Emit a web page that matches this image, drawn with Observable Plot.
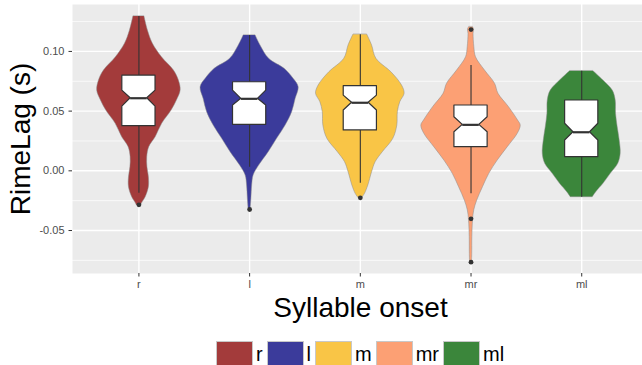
<!DOCTYPE html>
<html><head><meta charset="utf-8">
<script src="https://cdn.jsdelivr.net/npm/d3@7"></script>
<script src="https://cdn.jsdelivr.net/npm/@observablehq/plot@0.6"></script>
<style>
body{margin:0;background:#fff;font-family:"Liberation Sans",Arial,sans-serif;}
#legend{display:flex;justify-content:center;align-items:center;padding-left:82px;width:560px;margin-top:11px;}
.item{display:flex;align-items:center;margin-right:4px}
.key{width:37px;height:26px;border:1px solid #c8c8c8;box-sizing:border-box}
.lab{font-size:20px;margin-left:3px;color:#000;line-height:20px}
</style></head><body><div id="chart"></div><div id="legend"></div>
<script>
const categories = ["r", "l", "m", "mr", "ml"];
const colors = ["#a33b3b", "#3b3b9b", "#f9c546", "#fca074", "#3b863b"];
const yTicks = [-0.05, 0, 0.05, 0.10];
const yMinor = [-0.075, -0.025, 0.025, 0.075, 0.125];
const xTitle = "Syllable onset";
const yTitle = "RimeLag (s)";

// boxplot statistics
const q1 =        [0.0374, 0.0385, 0.0338, 0.0198, 0.0114];
const median =    [0.0608, 0.0603, 0.0570, 0.0385, 0.0323];
const q3 =        [0.0798, 0.0742, 0.0709, 0.0547, 0.0589];
const notchLo =   [0.0538, 0.0547, 0.0505, 0.0323, 0.0254];
const notchHi =   [0.0672, 0.0672, 0.0630, 0.0449, 0.0394];
const whiskerLo = [-0.0188, 0.0030, -0.0104, -0.0193, -0.0221];
const whiskerHi = [0.1292, 0.1133, 0.1139, 0.0882, 0.0834];
const outlierCat = ["r", "l", "m", "mr", "mr", "mr"];
const outlierVal = [-0.0285, -0.0324, -0.0226, 0.1183, -0.0402, -0.0765];

// violin half-widths (in category-band units) at values
const violinR = [[0.1292,0.050],[0.1175,0.081],[0.1064,0.126],[0.0951,0.208],[0.0840,0.316],[0.0756,0.361],[0.0672,0.377],[0.0589,0.343],[0.0505,0.295],[0.0394,0.210],[0.0281,0.151],[0.0198,0.093],[0.0114,0.075],[0.0030,0.077],[-0.0054,0.090],[-0.0137,0.090],[-0.0221,0.061],[-0.0260,0.036],[-0.0290,0.018]];
const violinL = [[0.1133,0.054],[0.1050,0.098],[0.0938,0.176],[0.0854,0.316],[0.0771,0.397],[0.0700,0.443],[0.0603,0.416],[0.0491,0.384],[0.0379,0.325],[0.0268,0.248],[0.0156,0.172],[0.0044,0.086],[-0.0039,0.036],[-0.0123,0.023],[-0.0235,0.016],[-0.0324,0.009]];
const violinM = [[0.1139,0.063],[0.1050,0.106],[0.0938,0.145],[0.0826,0.280],[0.0714,0.377],[0.0645,0.400],[0.0575,0.361],[0.0491,0.339],[0.0379,0.334],[0.0268,0.298],[0.0156,0.203],[0.0072,0.138],[-0.0012,0.106],[-0.0123,0.072],[-0.0193,0.042],[-0.0226,0.018]];
const violinMR = [[0.1203,0.018],[0.1183,0.027],[0.1147,0.023],[0.1035,0.030],[0.0951,0.045],[0.0840,0.126],[0.0729,0.217],[0.0645,0.248],[0.0533,0.343],[0.0421,0.425],[0.0379,0.449],[0.0310,0.422],[0.0198,0.332],[0.0086,0.241],[-0.0025,0.165],[-0.0137,0.108],[-0.0249,0.056],[-0.0332,0.029],[-0.0416,0.018],[-0.0556,0.012],[-0.0695,0.011],[-0.0765,0.009]];
const violinML = [[0.0834,0.106],[0.0756,0.196],[0.0672,0.280],[0.0589,0.307],[0.0477,0.310],[0.0365,0.325],[0.0254,0.343],[0.0142,0.352],[0.0059,0.330],[-0.0025,0.262],[-0.0109,0.196],[-0.0179,0.131],[-0.0221,0.099]];
const profiles = [violinR, violinL, violinM, violinMR, violinML];

const BOX = 0.15; // half box width (band units)
const pos = c => categories.indexOf(c) + 1;

const violinData = profiles.flatMap((p, k) => p.map(([v, w]) => ({cat: categories[k], pos: k + 1, v, w})));
const boxData = categories.map((c, k) => ({cat: c, pos: k + 1, q1: q1[k], med: median[k], q3: q3[k], lo: whiskerLo[k], hi: whiskerHi[k], nl: notchLo[k], nh: notchHi[k]}));
const boxPoly = boxData.flatMap(b => [
  {cat: b.cat, pos: b.pos, v: b.q3, w: BOX},
  {cat: b.cat, pos: b.pos, v: b.nh, w: BOX},
  {cat: b.cat, pos: b.pos, v: b.med, w: BOX / 2},
  {cat: b.cat, pos: b.pos, v: b.nl, w: BOX},
  {cat: b.cat, pos: b.pos, v: b.q1, w: BOX}
]);
const outliers = outlierCat.map((c, i) => ({cat: c, pos: pos(c), v: outlierVal[i]}));

const chart = Plot.plot({
  width: 642,
  height: 330,
  marginTop: 4,
  marginBottom: 57,
  marginLeft: 72,
  marginRight: 0,
  style: {fontFamily: "'Liberation Sans', Arial, sans-serif", background: "#fff"},
  x: {domain: [0.4, 5.549], axis: null},
  y: {domain: [-0.086, 0.1393], axis: null},
  color: {domain: categories, range: colors},
  marks: [
    Plot.frame({fill: "#ebebeb"}),
    Plot.ruleY(yMinor, {stroke: "white", strokeWidth: 0.7}),
    Plot.ruleY(yTicks, {stroke: "white", strokeWidth: 1.4}),
    Plot.ruleX(categories.map((c, k) => k + 1), {stroke: "white", strokeWidth: 1.4}),
    Plot.areaX(violinData, {y: "v", x1: d => d.pos - d.w, x2: d => d.pos + d.w, z: "cat", fill: "cat", stroke: "#8a8a8a", strokeWidth: 0.5, curve: "catmull-rom"}),
    Plot.ruleX(boxData, {x: "pos", y1: "lo", y2: "hi", stroke: "#333", strokeWidth: 1.1}),
    Plot.areaX(boxPoly, {y: "v", x1: d => d.pos - d.w, x2: d => d.pos + d.w, z: "cat", fill: "white", stroke: "#333", strokeWidth: 1.2}),
    Plot.ruleY(boxData, {y: "med", x1: d => d.pos - BOX / 2, x2: d => d.pos + BOX / 2, stroke: "#333", strokeWidth: 2.2}),
    Plot.dot(outliers, {x: "pos", y: "v", r: 2.4, fill: "#333", stroke: null}),
    Plot.axisY(yTicks, {tickSize: 3.5, tickPadding: 4.5, fontSize: 11, tickFormat: d => d.toFixed(2), label: null, color: "#4d4d4d", stroke: "#333"}),
    Plot.axisX(categories.map((c, k) => k + 1), {tickSize: 3.5, tickPadding: 3, fontSize: 11, tickFormat: d => categories[d - 1], label: null, color: "#4d4d4d", stroke: "#333"}),
    Plot.text([yTitle], {text: d => d, frameAnchor: "left", textAnchor: "middle", rotate: -90, dx: -51, fontSize: 28, fill: "#000"}),
    Plot.text([xTitle], {text: d => d, frameAnchor: "bottom", textAnchor: "middle", lineAnchor: "top", dx: 3, dy: 24, fontSize: 28, fill: "#000"})
  ]
});
document.getElementById("chart").appendChild(chart);

const legend = document.getElementById("legend");
categories.forEach((c, k) => {
  const item = document.createElement("div");
  item.className = "item";
  const key = document.createElement("div");
  key.className = "key";
  key.style.background = colors[k];
  const lab = document.createElement("span");
  lab.className = "lab";
  lab.textContent = c;
  item.appendChild(key);
  item.appendChild(lab);
  legend.appendChild(item);
});
</script>
</body></html>
